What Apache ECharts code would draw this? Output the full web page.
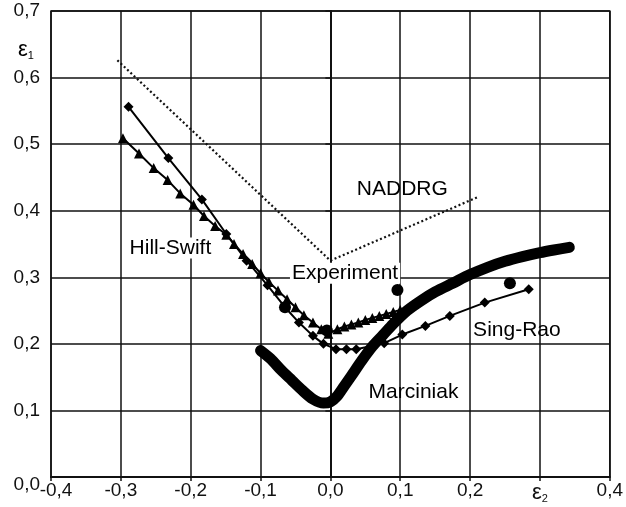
<!DOCTYPE html>
<html>
<head>
<meta charset="utf-8">
<script src="https://cdn.jsdelivr.net/npm/echarts@6/dist/echarts.min.js"></script>
<style>
  html, body { margin: 0; padding: 0; background: #fff; }
  #chart { width: 626px; height: 507px; }
</style>
</head>
<body>
<div id="chart"></div>
<script>
// FLD curves, eps2 (x) vs eps1 (y)
const naddrg = [[-0.305, 0.626], [0.0, 0.325], [0.21, 0.42]];

const hillSwift = [
  [-0.297, 0.509], [-0.274, 0.486], [-0.253, 0.464], [-0.233, 0.446], [-0.215, 0.426],
  [-0.196, 0.409], [-0.181, 0.392], [-0.165, 0.377], [-0.149, 0.364], [-0.138, 0.35],
  [-0.125, 0.335], [-0.112, 0.32], [-0.1, 0.306], [-0.088, 0.293], [-0.075, 0.28],
  [-0.062, 0.267], [-0.05, 0.255], [-0.038, 0.243], [-0.025, 0.232], [-0.013, 0.222],
  [-0.003, 0.215], [0.01, 0.222], [0.02, 0.226], [0.03, 0.229], [0.04, 0.232],
  [0.05, 0.236], [0.06, 0.239], [0.07, 0.242], [0.08, 0.245], [0.09, 0.248], [0.1, 0.251]
];

const singRao = [
  [-0.289, 0.556], [-0.232, 0.479], [-0.184, 0.417], [-0.149, 0.365], [-0.12, 0.325],
  [-0.09, 0.288], [-0.065, 0.255], [-0.045, 0.232], [-0.025, 0.212], [-0.01, 0.2],
  [0.008, 0.192], [0.023, 0.192], [0.037, 0.192], [0.077, 0.201], [0.103, 0.214],
  [0.136, 0.227], [0.171, 0.242], [0.221, 0.262], [0.284, 0.282]
];

const marciniak = [
  [-0.1, 0.19], [-0.086, 0.178], [-0.07, 0.16], [-0.055, 0.145], [-0.04, 0.13],
  [-0.025, 0.117], [-0.01, 0.111], [0.0, 0.113], [0.01, 0.122], [0.02, 0.137],
  [0.03, 0.152], [0.045, 0.175], [0.06, 0.196], [0.075, 0.213], [0.09, 0.23],
  [0.11, 0.25], [0.13, 0.265], [0.15, 0.278], [0.175, 0.291], [0.2, 0.304],
  [0.225, 0.315], [0.25, 0.324], [0.275, 0.331], [0.3, 0.337], [0.32, 0.341], [0.342, 0.345]
];

const experiment = [[-0.065, 0.255], [-0.005, 0.22], [0.096, 0.281], [0.257, 0.291]];

const curveNames = ['Hill-Swift', 'Experiment', 'NADDRG', 'Sing-Rao', 'Marciniak'];
const curveLabelPos = [[-0.229, 0.344], [0.021, 0.306], [0.103, 0.433], [0.267, 0.221], [0.119, 0.128]];

const font = 'Liberation Sans, Arial, sans-serif';
const ink = '#111';
const subRich = {
  e: { fontFamily: font, fontSize: 22, color: ink },
  s: { fontFamily: font, fontSize: 11, color: ink, padding: [12, 0, 0, 0] }
};

const chart = echarts.init(document.getElementById('chart'));

chart.setOption({
  animation: false,
  backgroundColor: '#fff',
  grid: {
    left: 51, right: 9, top: 11, bottom: 30,
    show: true, borderColor: ink, borderWidth: 1.5
  },
  graphic: [{
    type: 'text', left: 18, top: 39, silent: true,
    style: { text: '{e|ε}{s|1}', rich: subRich }
  }],
  xAxis: {
    type: 'value', min: -0.4, max: 0.4, interval: 0.1,
    axisLine: { onZero: false, lineStyle: { color: ink, width: 2 } },
    axisTick: { show: true, length: 4, lineStyle: { color: ink, width: 1.5 } },
    splitLine: { lineStyle: { color: ink, width: 1.5 } },
    axisLabel: {
      color: ink, fontFamily: font, fontSize: 19, margin: 4,
      formatter: function (v) {
        if (Math.abs(v - 0.3) < 1e-6) return '{e|ε}{s|2}';
        if (Math.abs(v + 0.4) < 1e-6) return '{first|-0,4}';
        return v.toFixed(1).replace('.', ',');
      },
      rich: Object.assign({
        first: { fontFamily: font, fontSize: 19, color: ink, padding: [0, 0, 0, 10] }
      }, subRich)
    }
  },
  yAxis: {
    type: 'value', min: 0, max: 0.7, interval: 0.1,
    axisLine: { lineStyle: { color: ink, width: 2 } },
    axisTick: { show: true, length: 5, lineStyle: { color: ink, width: 1.5 } },
    splitLine: { lineStyle: { color: ink, width: 1.5 } },
    axisLabel: {
      color: ink, fontFamily: font, fontSize: 19, margin: 11,
      formatter: function (v) {
        if (v === 0) return '{low|0,0}';
        return v.toFixed(1).replace('.', ',');
      },
      rich: {
        low: { fontFamily: font, fontSize: 19, color: ink, padding: [16, 0, 0, 0] }
      }
    }
  },
  series: [
    {
      name: 'NADDRG', type: 'line', data: naddrg, symbol: 'none',
      lineStyle: { color: ink, width: 2.2, type: [2, 2.5] }, z: 3
    },
    {
      name: 'Marciniak', type: 'line', data: marciniak, symbol: 'none', smooth: 0.3,
      lineStyle: { color: '#000', width: 11, cap: 'round', join: 'round' }, z: 4
    },
    {
      name: 'Hill-Swift', type: 'line', data: hillSwift,
      symbol: 'triangle', symbolSize: 10, showAllSymbol: true,
      itemStyle: { color: '#000', opacity: 1 },
      lineStyle: { color: '#000', width: 2 }, z: 5
    },
    {
      name: 'Sing-Rao', type: 'line', data: singRao,
      symbol: 'diamond', symbolSize: 10, showAllSymbol: true,
      itemStyle: { color: '#000', opacity: 1 },
      lineStyle: { color: '#000', width: 2 }, z: 5
    },
    {
      name: 'Experiment', type: 'scatter', data: experiment,
      symbol: 'circle', symbolSize: 12,
      itemStyle: { color: '#000', opacity: 1 }, z: 6
    },
    {
      name: 'labels', type: 'scatter', symbolSize: 0, silent: true, z: 7,
      itemStyle: { color: 'rgba(0,0,0,0)', opacity: 1 },
      data: curveNames.map(function (n, i) {
        return {
          value: curveLabelPos[i], name: n,
          label: {
            backgroundColor: (n === 'Hill-Swift' || n === 'Experiment') ? '#fff' : 'transparent'
          }
        };
      }),
      label: {
        show: true, position: 'inside', formatter: '{b}',
        color: '#000', fontFamily: font, fontSize: 21, padding: [0, 2]
      }
    }
  ]
});
</script>
</body>
</html>
